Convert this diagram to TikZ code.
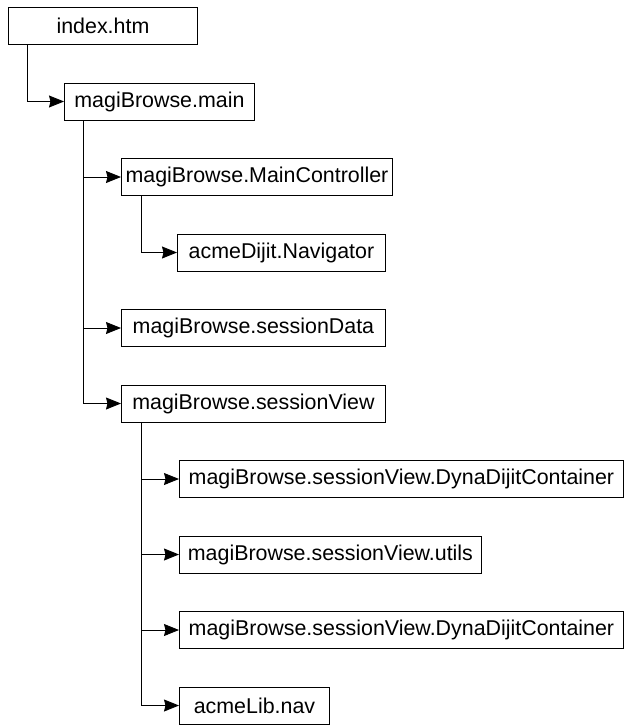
\documentclass[tikz,border=0pt]{standalone}
\usepackage{fontspec}
\setmainfont{Liberation Sans}
\usepackage{tikz}
\usetikzlibrary{arrows.meta}

\begin{document}
\begin{tikzpicture}[>={Stealth[length=15pt,width=12pt,inset=1.5pt]},x=1pt,y=1pt,line width=0.9pt,
	box/.style={draw,anchor=west,minimum height=37pt,inner sep=0pt,font=\fontsize{21.4}{25}\selectfont}]
\useasboundingbox (0,0) rectangle (624,-725);

%% one row every 75.5pt, left edges read off the tree
\node[box,minimum width=189pt] (idx) at (8,-26) {index.htm};
\node[box,minimum width=190pt] (main) at (64,-101.5) {magiBrowse.main};
\node[box,minimum width=271pt] (mctrl) at (121,-177) {magiBrowse.MainController};
\node[box,minimum width=208pt] (navig) at (177,-252.5) {acmeDijit.Navigator};
\node[box,minimum width=264pt] (sdata) at (121,-328) {magiBrowse.sessionData};
\node[box,minimum width=264pt] (sview) at (121,-403.5) {magiBrowse.sessionView};
\node[box,minimum width=444pt] (dyna) at (179,-479) {magiBrowse.sessionView.DynaDijitContainer};
\node[box,minimum width=302pt] (utils) at (179,-554.5) {magiBrowse.sessionView.utils};
\node[box,minimum width=444pt] (dynb) at (179,-630) {magiBrowse.sessionView.DynaDijitContainer};
\node[box,minimum width=150pt] (nav) at (179,-705.5) {acmeLib.nav};

%% "mctrl" = MainController, "sview" = sessionView, "dynb" = 2nd DynaDijitContainer

\draw[->] ([xshift=19pt]idx.south west) |- (main.west);
\draw[->] ([xshift=19pt]main.south west) |- (mctrl.west);
\draw[->] ([xshift=19pt]main.south west) |- (sdata.west);
\draw[->] ([xshift=19pt]main.south west) |- (sview.west);
\draw[->] ([xshift=20pt]mctrl.south west) |- (navig.west);
\draw[->] ([xshift=20pt]sview.south west) |- (dyna.west);
\draw[->] ([xshift=20pt]sview.south west) |- (utils.west);
\draw[->] ([xshift=20pt]sview.south west) |- (dynb.west);
\draw[->] ([xshift=20pt]sview.south west) |- (nav.west);
\end{tikzpicture}
\end{document}
